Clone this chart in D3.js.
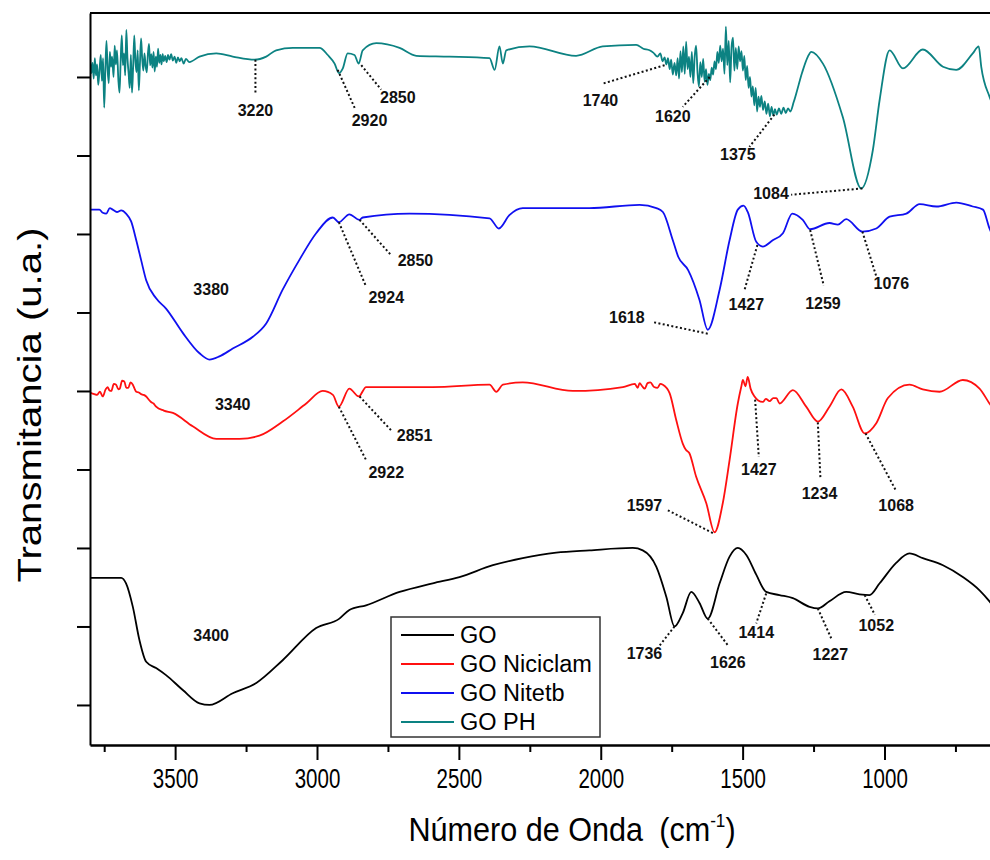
<!DOCTYPE html>
<html>
<head>
<meta charset="utf-8">
<script src="https://cdn.jsdelivr.net/npm/d3@7"></script>
<style>
  body { margin: 0; background: #fff; }
  svg { font-family: "Liberation Sans", Arial, sans-serif; }
  .axis path, .axis line { stroke: #000; stroke-width: 2; }
  .axis text { font-size: 27px; fill: #000; }
  .peak { font-size: 16px; font-weight: bold; fill: #111; }
  .leader { stroke: #111; stroke-width: 2; stroke-dasharray: 2 2.4; fill: none; }
</style>
</head>
<body>
<div class="ftir-chart"></div>
<script>
// series: nombre y color
const seriesNames = ['GO', 'GO Niciclam', 'GO Nitetb', 'GO PH'];
const seriesColors = ['#000000', '#ff1010', '#1010f0', '#0c8282'];

// [numero de onda (cm-1), transmitancia (u.a.)]
const goData = [
  [3800,16.2],[3690,16.2],[3673,15.5],[3649,12.5],[3626,8.3],[3602,5.5],[3567,4.7],[3532,3.8],
  [3473,1.9],[3414,0.2],[3379,0],[3297,1.5],[3214,2.8],[3121,5.7],[3003,9.8],[2921,11.0],
  [2886,12.1],[2827,12.7],[2709,14.4],[2592,15.5],[2498,16.3],[2380,17.8],[2275,18.7],[2157,19.4],
  [2040,19.7],[1887,20.0],[1852,19.7],[1804,17.6],[1769,13.8],[1740,10.0],[1711,11.7],[1681,14.4],
  [1652,13.0],[1623,11.0],[1581,15.5],[1546,18.9],[1517,20.0],[1487,19.1],[1452,16.6],[1417,14.4],
  [1370,14.0],[1323,13.6],[1264,12.5],[1235,12.3],[1194,13.2],[1135,14.4],[1088,14.1],[1053,14.0],
  [1017,15.5],[959,18.1],[912,19.3],[865,18.7],[794,17.8],[724,16.3],[665,14.6],[630,13.2],[600,11.8]
];
const niciclamData = [
  [3800,39.8],[3785,39.6],[3775,39.5],[3765,39.9],[3755,39.3],[3745,40.2],[3738,40.5],[3732,40.1],
  [3725,40.0],[3716,40.9],[3708,40.8],[3700,40.2],[3695,40.3],[3687,41.3],[3679,41.2],[3672,40.4],
  [3665,40.4],[3657,41.1],[3649,40.8],[3643,40.3],[3637,39.9],[3628,39.8],[3620,39.6],[3611,39.5],
  [3602,39.3],[3593,38.9],[3585,38.6],[3576,38.4],[3567,38.0],[3540,37.5],[3508,37.2],[3438,35.5],
  [3355,33.9],[3273,33.9],[3203,34.3],[3121,36.1],[3038,38.4],[2980,40.0],[2944,39.5],[2923,38.0],
  [2886,40.3],[2853,39.3],[2827,40.5],[2592,40.5],[2392,40.8],[2368,39.9],[2345,40.8],[2275,41.1],
  [2098,40.0],[1922,40.5],[1880,40.9],[1870,40.4],[1863,41.0],[1854,40.6],[1845,40.3],[1835,41.0],
  [1825,41.1],[1812,40.5],[1800,40.4],[1790,40.9],[1781,40.8],[1757,39.7],[1734,36.3],[1711,33.3],
  [1700,32.5],[1688,32.1],[1664,29.1],[1628,25.7],[1599,22.0],[1570,25.7],[1546,31.2],[1517,38.4],
  [1505,40.5],[1499,41.4],[1490,40.6],[1482,41.8],[1472,40.3],[1458,39.3],[1445,38.8],[1429,38.6],
  [1418,39.0],[1405,38.7],[1392,39.1],[1381,39.1],[1370,38.4],[1323,40.1],[1276,38.0],[1235,36.1],
  [1194,38.0],[1152,40.2],[1112,38.0],[1070,34.6],[1029,35.9],[988,39.1],[912,40.8],[865,40.2],
  [806,39.9],[724,41.4],[665,40.3],[630,38.4],[600,36.9]
];
const nitetbData = [
  [3800,63.1],[3767,63.1],[3755,62.7],[3743,62.6],[3730,63.3],[3720,63.1],[3705,62.8],[3690,63.0],
  [3673,62.6],[3655,61.6],[3637,59.2],[3620,56.7],[3602,54.1],[3567,51.8],[3532,50.5],[3473,47.4],
  [3414,44.8],[3379,44.0],[3344,44.4],[3297,45.4],[3226,46.9],[3179,48.6],[3121,52.9],[3062,56.7],
  [3003,60.1],[2944,62.1],[2923,61.5],[2886,62.5],[2850,61.8],[2839,62.1],[2674,62.6],[2392,62.0],
  [2359,60.7],[2322,62.4],[2275,63.3],[2040,63.3],[1863,63.7],[1804,63.3],[1781,62.8],[1746,59.2],
  [1727,57.1],[1692,55.4],[1652,51.6],[1623,47.8],[1581,52.9],[1546,59.2],[1517,63.1],[1497,63.6],
  [1482,62.8],[1452,59.0],[1429,58.4],[1394,59.2],[1358,60.1],[1325,62.6],[1288,61.8],[1262,60.6],
  [1194,61.4],[1164,61.2],[1135,61.9],[1078,60.3],[1029,60.7],[982,62.2],[923,62.6],[876,63.8],
  [817,63.5],[747,64.0],[689,63.5],[653,63.1],[630,60.7],[600,58.6]
];
const phData = [
  [3800,82.6],[3795,80.5],[3791,81.8],[3787,79.8],[3783,82.4],[3779,80.2],[3775,81.6],[3771,79.0],
  [3767,80.6],[3762,82.8],[3758,79.5],[3754,82.4],[3750,76.1],[3746,80.8],[3742,84.6],[3738,81.0],
  [3734,79.2],[3730,83.2],[3726,81.3],[3722,82.6],[3717,80.0],[3713,84.0],[3709,81.6],[3705,83.4],
  [3700,79.6],[3696,78.0],[3692,82.0],[3688,85.3],[3684,81.5],[3680,83.0],[3676,80.2],[3672,86.0],
  [3668,82.4],[3664,80.5],[3660,78.6],[3656,82.8],[3652,78.0],[3648,81.2],[3644,85.3],[3640,82.0],
  [3636,80.6],[3632,83.4],[3628,78.3],[3624,81.7],[3620,84.9],[3616,82.3],[3612,80.8],[3608,83.0],
  [3604,81.4],[3600,80.6],[3596,82.9],[3592,84.2],[3588,81.5],[3584,82.9],[3580,81.2],[3576,83.2],
  [3572,80.7],[3568,82.6],[3564,81.3],[3560,83.6],[3556,81.8],[3552,82.8],[3548,81.6],[3544,82.9],
  [3540,82.0],[3535,82.7],[3530,81.9],[3525,82.8],[3520,82.2],[3514,82.9],[3508,82.1],[3502,82.6],
  [3496,81.8],[3490,82.5],[3484,82.0],[3478,82.4],[3470,81.7],[3462,82.3],[3450,81.9],[3414,82.6],
  [3355,83.0],[3297,82.6],[3220,82.2],[3179,82.6],[3144,83.4],[3085,83.7],[2991,83.7],[2962,82.8],
  [2938,81.7],[2923,80.5],[2909,81.1],[2892,83.0],[2868,82.8],[2853,81.7],[2839,83.4],[2791,84.3],
  [2709,83.7],[2650,82.7],[2533,82.6],[2392,82.4],[2374,80.9],[2357,83.9],[2345,81.7],[2333,83.4],
  [2251,83.9],[2087,82.7],[1993,83.9],[1875,84.1],[1850,83.6],[1828,83.4],[1815,83.1],[1800,82.6],
  [1790,83.0],[1782,82.0],[1775,82.5],[1769,81.6],[1763,82.4],[1757,81.0],[1752,82.2],[1746,80.3],
  [1740,81.8],[1734,80.2],[1729,82.4],[1724,79.8],[1719,83.3],[1714,80.6],[1709,83.9],[1704,80.4],
  [1699,84.5],[1694,81.0],[1689,82.6],[1684,80.0],[1679,83.2],[1674,79.2],[1669,82.6],[1664,84.0],
  [1659,80.6],[1654,78.8],[1649,81.9],[1644,80.0],[1639,82.3],[1634,79.4],[1629,81.0],[1624,79.0],
  [1619,80.4],[1614,79.6],[1609,81.2],[1604,80.3],[1599,82.0],[1594,81.0],[1589,83.2],[1584,81.8],
  [1579,84.0],[1574,82.0],[1569,83.6],[1564,80.4],[1559,86.4],[1554,81.5],[1549,84.6],[1544,79.3],
  [1539,83.8],[1534,85.0],[1529,80.8],[1524,83.7],[1519,81.0],[1514,83.9],[1509,82.0],[1504,83.3],
  [1499,80.8],[1494,82.7],[1489,79.6],[1484,81.4],[1479,78.6],[1474,80.0],[1469,77.5],[1464,78.8],
  [1459,76.4],[1454,78.6],[1449,75.6],[1444,77.5],[1439,76.2],[1434,77.6],[1428,75.8],[1422,76.9],
  [1416,75.3],[1410,76.6],[1404,75.0],[1398,76.2],[1392,75.1],[1386,75.9],[1380,75.2],[1372,76.0],
  [1364,75.3],[1356,76.1],[1348,75.4],[1340,76.0],[1332,75.6],[1320,76.8],[1311,77.9],[1290,80.6],
  [1270,82.6],[1258,83.2],[1217,81.7],[1147,74.9],[1082,65.8],[1041,70.7],[1017,77.1],[982,83.4],
  [935,81.1],[865,83.5],[794,81.3],[747,80.9],[689,83.0],[668,83.9],[659,81.3],[630,77.5],[600,75.2]
];
const allSeries = [goData, niciclamData, nitetbData, phData];

// ticks
const xMajorTicks = [3500, 3000, 2500, 2000, 1500, 1000];
const xMinorTicks = [3750, 3250, 2750, 2250, 1750, 1250, 750];
const yTicks = [0, 10, 20, 30, 40, 50, 60, 70, 80];

// etiquetas de picos: [texto, w pico, v pico, w fin, v fin, w texto, v texto]
const peakLabels = [
  ['3220', 3217, 82.2, 3217, 77.7, 3217, 75.8],
  ['2920', 2927, 80.9, 2864, 75.8, 2815, 74.5],
  ['2850', 2844, 81.5, 2774, 78.4, 2715, 77.4],
  ['1740', 1775, 81.5, 1998, 79.1, 2001, 77.1],
  ['1620', 1616, 80.0, 1711, 76.2, 1746, 75.0],
  ['1375', 1388, 75.2, 1476, 71.1, 1517, 70.1],
  ['1084', 1078, 65.8, 1329, 65.0, 1400, 65.2],
  ['3380', null, null, null, null, 3373, 53.0],
  ['2924', 2923, 61.5, 2827, 53.3, 2756, 52.0],
  ['2850', 2850, 61.8, 2739, 57.3, 2653, 56.6],
  ['1618', 1623, 47.3, 1820, 48.8, 1908, 49.4],
  ['1427', 1448, 58.6, 1493, 52.9, 1487, 51.1],
  ['1259', 1262, 60.5, 1214, 53.4, 1217, 51.2],
  ['1076', 1078, 60.3, 1029, 54.6, 976, 53.7],
  ['3340', null, null, null, null, 3297, 38.3],
  ['2922', 2923, 38.0, 2827, 31.2, 2756, 29.6],
  ['2851', 2850, 39.3, 2739, 35.0, 2656, 34.3],
  ['1597', 1605, 21.9, 1769, 24.9, 1846, 25.4],
  ['1427', 1456, 38.9, 1443, 31.6, 1443, 30.0],
  ['1234', 1235, 36.0, 1226, 29.0, 1229, 27.0],
  ['1068', 1067, 34.6, 961, 27.4, 959, 25.4],
  ['3400', null, null, null, null, 3373, 8.9],
  ['1736', 1740, 10.0, 1792, 7.6, 1846, 6.6],
  ['1626', 1623, 11.0, 1552, 7.6, 1552, 5.5],
  ['1414', 1417, 14.2, 1452, 10.4, 1452, 9.3],
  ['1227', 1235, 12.3, 1188, 8.5, 1191, 6.4],
  ['1052', 1070, 14.0, 1034, 11.5, 1029, 10.1]
];

const svg_width = 990, svg_height = 860;
const margin = {top: 13, left: 90, bottom: 115};
const plotRight = 998; // el marco derecho queda fuera de la imagen

const svg = d3.select('.ftir-chart').append('svg')
  .attr('width', svg_width).attr('height', svg_height);

const xScale = d3.scaleLinear().domain([3800, 600]).range([margin.left, plotRight]);
const yScale = d3.scaleLinear().domain([-5.1, 88.15])
  .range([svg_height - margin.bottom, margin.top]);

svg.append('clipPath').attr('id', 'plot-clip').append('rect')
  .attr('x', margin.left).attr('y', margin.top)
  .attr('width', plotRight - margin.left).attr('height', svg_height - margin.bottom - margin.top);

// curvas
const line = d3.line().x(d => xScale(d[0])).y(d => yScale(d[1])).curve(d3.curveMonotoneX);
const curves = svg.append('g').attr('clip-path', 'url(#plot-clip)');
allSeries.forEach((data, i) => {
  curves.append('path')
    .datum(data)
    .attr('d', line)
    .style('fill', 'none')
    .style('stroke', seriesColors[i])
    .style('stroke-width', 1.8)
    .style('stroke-linejoin', 'round');
});

// etiquetas de picos
const ann = svg.append('g');
ann.selectAll('.leader')
  .data(peakLabels.filter(d => d[1] !== null))
  .enter().append('line').attr('class', 'leader')
  .attr('x1', d => xScale(d[1])).attr('y1', d => yScale(d[2]))
  .attr('x2', d => xScale(d[3])).attr('y2', d => yScale(d[4]));
ann.selectAll('.peak')
  .data(peakLabels)
  .enter().append('text').attr('class', 'peak')
  .attr('x', d => xScale(d[5])).attr('y', d => yScale(d[6]))
  .attr('dy', '0.36em')
  .style('text-anchor', 'middle')
  .text(d => d[0]);

// ejes
const y0 = svg_height - margin.bottom;
const xAxis = d3.axisBottom(xScale).tickValues(xMajorTicks).tickFormat(d3.format('d'))
  .tickSizeInner(15).tickSizeOuter(0).tickPadding(9);
const xAxisDraw = svg.append('g').attr('class', 'x axis')
  .attr('transform', `translate(0,${y0})`).call(xAxis);
xAxisDraw.select('.domain').style('stroke-width', 2.5);
// letras angostas como en la figura original
xAxisDraw.selectAll('text').attr('transform', 'scale(0.76,1)');
svg.append('g').attr('class', 'x axis minor')
  .attr('transform', `translate(0,${y0})`)
  .call(d3.axisBottom(xScale).tickValues(xMinorTicks).tickSizeInner(7).tickSizeOuter(0).tickFormat(''))
  .select('.domain').remove();

const yAxis = d3.axisLeft(yScale).tickValues(yTicks).tickSizeInner(13).tickSizeOuter(0).tickFormat('');
svg.append('g').attr('class', 'y axis')
  .attr('transform', `translate(${margin.left},0)`).call(yAxis);

// marco superior
svg.append('line')
  .attr('x1', margin.left).attr('x2', svg_width)
  .attr('y1', margin.top).attr('y2', margin.top)
  .style('stroke', '#000').style('stroke-width', 2);

// titulos
svg.append('text')
  .attr('transform', 'translate(41,405) rotate(-90) scale(1.18,1)')
  .style('text-anchor', 'middle').style('font-size', '34px')
  .text('Transmitancia (u.a.)');

const xTitle = svg.append('text')
  .attr('transform', 'translate(572,841) scale(0.9,1)')
  .style('text-anchor', 'middle').style('font-size', '34px');
xTitle.append('tspan').text('Número de Onda');
xTitle.append('tspan').attr('dx', 18).text('(cm');
xTitle.append('tspan').attr('dy', -14).style('font-size', '19px').text('-1');
xTitle.append('tspan').attr('dy', 14).text(')');

// leyenda
const legend = svg.append('g').attr('transform', 'translate(391,617)');
legend.append('rect').attr('width', 209).attr('height', 120)
  .style('fill', '#fff').style('stroke', '#333').style('stroke-width', 1.5);
const items = legend.selectAll('.item').data(seriesNames).enter().append('g')
  .attr('transform', (d, i) => `translate(0,${18 + i * 29})`);
items.append('line').attr('x1', 10).attr('x2', 63)
  .style('stroke', (d, i) => seriesColors[i]).style('stroke-width', 1.8);
items.append('text').attr('x', 69).attr('dy', '0.36em')
  .style('font-size', '23.5px').text(d => d);
</script>
</body>
</html>
